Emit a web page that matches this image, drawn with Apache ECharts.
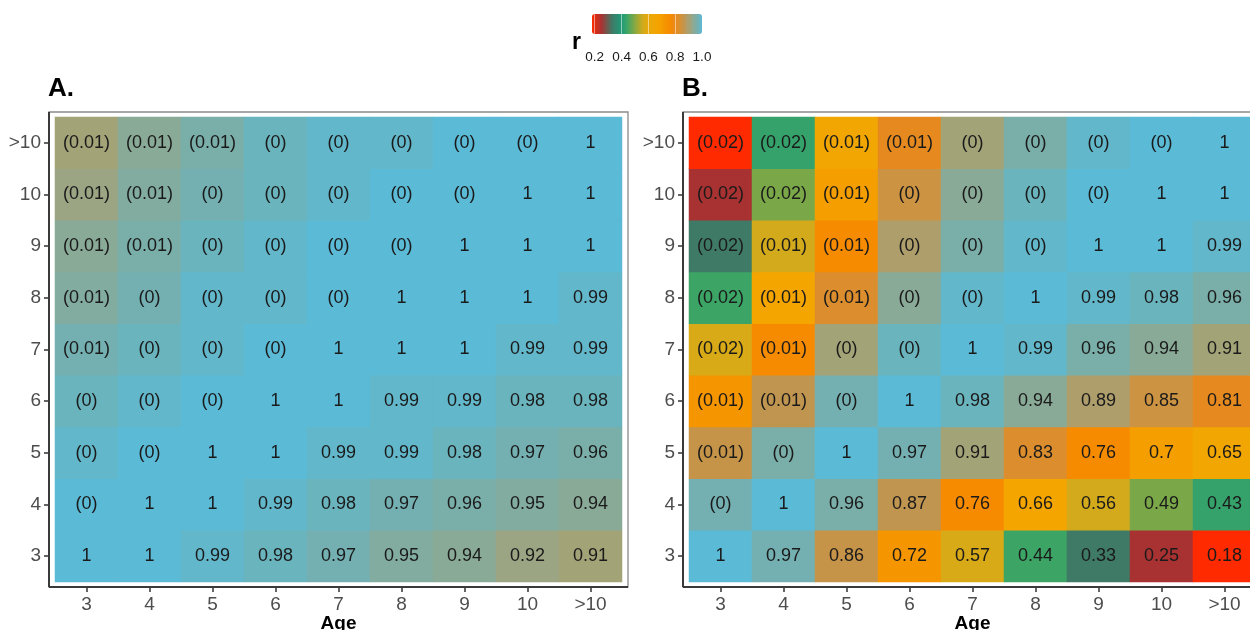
<!DOCTYPE html>
<html>
<head>
<meta charset="utf-8">
<script src="https://cdn.jsdelivr.net/npm/echarts@6/dist/echarts.min.js"></script>
<style>
  html, body { margin: 0; padding: 0; background: #ffffff; }
  #chart { width: 1250px; height: 630px; }
</style>
</head>
<body>
<div id="chart"></div>
<script>
// Age classes, used for both axes of each matrix
const ages = ['3', '4', '5', '6', '7', '8', '9', '10', '>10'];
const axisTitle = 'Age';

// Correlation r, row i holds r(age_i, age_j) for j >= i
const rA = [
  [1, 1, 0.99, 0.98, 0.97, 0.95, 0.94, 0.92, 0.91],
  [1, 1, 0.99, 0.98, 0.97, 0.96, 0.95, 0.94],
  [1, 1, 0.99, 0.99, 0.98, 0.97, 0.96],
  [1, 1, 0.99, 0.99, 0.98, 0.98],
  [1, 1, 1, 0.99, 0.99],
  [1, 1, 1, 0.99],
  [1, 1, 1],
  [1, 1],
  [1]
];
// Standard errors, row i holds se(age_i, age_j) for j < i
const seA = [
  [],
  [0],
  [0, 0],
  [0, 0, 0],
  [0.01, 0, 0, 0],
  [0.01, 0, 0, 0, 0],
  [0.01, 0.01, 0, 0, 0, 0],
  [0.01, 0.01, 0, 0, 0, 0, 0],
  [0.01, 0.01, 0.01, 0, 0, 0, 0, 0]
];

const rB = [
  [1, 0.97, 0.86, 0.72, 0.57, 0.44, 0.33, 0.25, 0.18],
  [1, 0.96, 0.87, 0.76, 0.66, 0.56, 0.49, 0.43],
  [1, 0.97, 0.91, 0.83, 0.76, 0.7, 0.65],
  [1, 0.98, 0.94, 0.89, 0.85, 0.81],
  [1, 0.99, 0.96, 0.94, 0.91],
  [1, 0.99, 0.98, 0.96],
  [1, 1, 0.99],
  [1, 1],
  [1]
];
const seB = [
  [],
  [0],
  [0.01, 0],
  [0.01, 0.01, 0],
  [0.02, 0.01, 0, 0],
  [0.02, 0.01, 0.01, 0, 0],
  [0.02, 0.01, 0.01, 0, 0, 0],
  [0.02, 0.02, 0.01, 0, 0, 0, 0],
  [0.02, 0.02, 0.01, 0.01, 0, 0, 0, 0]
];

// Colour scale for r
const rMin = 0.18, rMax = 1.0;
const legendTicks = [0.2, 0.4, 0.6, 0.8, 1.0];
const colorStops = [
  [0.18, '#ff2a00'], [0.25, '#a83232'], [0.33, '#3f7a66'], [0.40, '#1f9a78'],
  [0.44, '#3ca566'], [0.49, '#7aa848'], [0.56, '#d2aa1c'], [0.60, '#e8a80a'],
  [0.66, '#f4a500'], [0.70, '#f59e00'], [0.72, '#f59500'], [0.76, '#f78b00'],
  [0.81, '#e68a20'], [0.83, '#dc8e2e'], [0.85, '#cc9342'], [0.87, '#c09550'],
  [0.89, '#ae9e6c'], [0.91, '#a3a378'], [0.94, '#8aaa98'], [0.96, '#7aaea8'],
  [0.97, '#74b0b2'], [0.98, '#6ab4be'], [0.99, '#62b7ca'], [1.00, '#5bbad6']
];

function hexRgb(h) {
  return [1, 3, 5].map(k => parseInt(h.slice(k, k + 2), 16));
}
function colorAt(v) {
  if (v <= colorStops[0][0]) return colorStops[0][1];
  for (let i = 0; i < colorStops.length - 1; i++) {
    const [v0, c0] = colorStops[i], [v1, c1] = colorStops[i + 1];
    if (v <= v1) {
      const t = (v - v0) / (v1 - v0);
      const a = hexRgb(c0), b = hexRgb(c1);
      const m = a.map((x, k) => Math.round(x + (b[k] - x) * t));
      return 'rgb(' + m.join(',') + ')';
    }
  }
  return colorStops[colorStops.length - 1][1];
}
const ramp = [];
for (let k = 0; k <= 82; k++) ramp.push(colorAt(Math.min(rMax, rMin + k * 0.01)));

// Full symmetric matrix: r labels on/right of the diagonal, (se) labels left of it
function buildCells(r, se) {
  const cells = [];
  for (let i = 0; i < ages.length; i++) {
    for (let j = 0; j < ages.length; j++) {
      if (j >= i) {
        const v = r[i][j - i];
        cells.push({ name: String(v), value: [j, i, v] });
      } else {
        const v = r[j][i - j];
        cells.push({ name: '(' + se[i][j] + ')', value: [j, i, v] });
      }
    }
  }
  return cells;
}

const FONT = '"Liberation Sans", Arial, Helvetica, sans-serif';
const panelTop = 117, panelH = 465, panelW = 567;
const panelLefts = [55, 689];
const padX = 6, padY = 5;

// Panel border: light frame, darker left/bottom axis lines, and the axis title below
function frame(left) {
  const x0 = left - padX, y0 = panelTop - padY;
  const x1 = left + panelW + padX, y1 = panelTop + panelH + padY;
  return [
    { type: 'rect', shape: { x: x0, y: y0, width: x1 - x0, height: y1 - y0 },
      style: { fill: null, stroke: '#8a8a8a', lineWidth: 1.3 }, z: 10 },
    { type: 'line', shape: { x1: x0, y1: y0, x2: x0, y2: y1 },
      style: { stroke: '#3a3a3a', lineWidth: 2 }, z: 11 },
    { type: 'line', shape: { x1: x0, y1: y1, x2: x1, y2: y1 },
      style: { stroke: '#3a3a3a', lineWidth: 2 }, z: 11 },
    { type: 'text', x: left + panelW / 2, y: y1 + 37, z: 11,
      style: { text: axisTitle, font: 'bold 19px ' + FONT, fill: '#000',
               textAlign: 'center', textVerticalAlign: 'middle' } }
  ];
}

function xAx(idx) {
  return {
    type: 'category', gridIndex: idx, data: ages, offset: padY,
    axisLine: { show: false },
    axisTick: { show: true, alignWithLabel: true, length: 5, lineStyle: { color: '#333', width: 1.5 } },
    axisLabel: { fontSize: 19, color: '#4d4d4d', margin: 8, fontFamily: FONT },
    splitLine: { show: false }
  };
}
function yAx(idx) {
  return {
    type: 'category', gridIndex: idx, data: ages, offset: padX,
    axisLine: { show: false },
    axisTick: { show: true, alignWithLabel: true, length: 5, lineStyle: { color: '#333', width: 1.5 } },
    axisLabel: { fontSize: 19, color: '#4d4d4d', margin: 8, fontFamily: FONT },
    splitLine: { show: false }
  };
}
function heat(idx, cells) {
  return {
    type: 'heatmap', xAxisIndex: idx, yAxisIndex: idx, data: cells,
    label: { show: true, formatter: p => p.data.name, fontSize: 18, color: '#1a1a1a', fontFamily: FONT },
    itemStyle: { borderWidth: 0 },
    emphasis: { disabled: true }
  };
}

const chart = echarts.init(document.getElementById('chart'), null, { renderer: 'canvas' });
chart.setOption({
  animation: false,
  backgroundColor: '#ffffff',
  textStyle: { fontFamily: FONT },
  grid: [
    { left: panelLefts[0], top: panelTop, width: panelW, height: panelH, containLabel: false, outerBoundsMode: 'none' },
    { left: panelLefts[1], top: panelTop, width: panelW, height: panelH, containLabel: false, outerBoundsMode: 'none' },
    { left: 592, top: 14, width: 110, height: 20, containLabel: false, outerBoundsMode: 'none' }
  ],
  xAxis: [
    xAx(0), xAx(1),
    {
      type: 'value', gridIndex: 2, min: rMin, max: rMax, z: 10,
      axisLine: { show: false },
      splitLine: { show: false },
      axisTick: { show: true, inside: true, length: 20, customValues: legendTicks,
                  lineStyle: { color: '#ffffff', width: 1, opacity: 0.5 } },
      axisLabel: { customValues: legendTicks, formatter: v => v.toFixed(1),
                   fontSize: 13.5, color: '#1a1a1a', margin: 16, fontFamily: FONT }
    }
  ],
  yAxis: [yAx(0), yAx(1), { type: 'value', gridIndex: 2, show: false, min: 0, max: 1 }],
  visualMap: {
    type: 'continuous', min: rMin, max: rMax, dimension: 2, seriesIndex: [0, 1],
    orient: 'horizontal', left: 592, top: 14, itemWidth: 20, itemHeight: 110,
    padding: 0, calculable: false, hoverLink: false, text: null, z: 2,
    inRange: { color: ramp }
  },
  graphic: [
    ...frame(panelLefts[0]),
    ...frame(panelLefts[1]),
    { type: 'text', left: 48, top: 76, style: { text: 'A.', font: 'bold 26px ' + FONT, fill: '#000' } },
    { type: 'text', left: 682, top: 76, style: { text: 'B.', font: 'bold 26px ' + FONT, fill: '#000' } },
    { type: 'text', left: 572, top: 31, style: { text: 'r', font: 'bold 23px ' + FONT, fill: '#000' } }
  ],
  series: [heat(0, buildCells(rA, seA)), heat(1, buildCells(rB, seB))]
});
</script>
</body>
</html>
